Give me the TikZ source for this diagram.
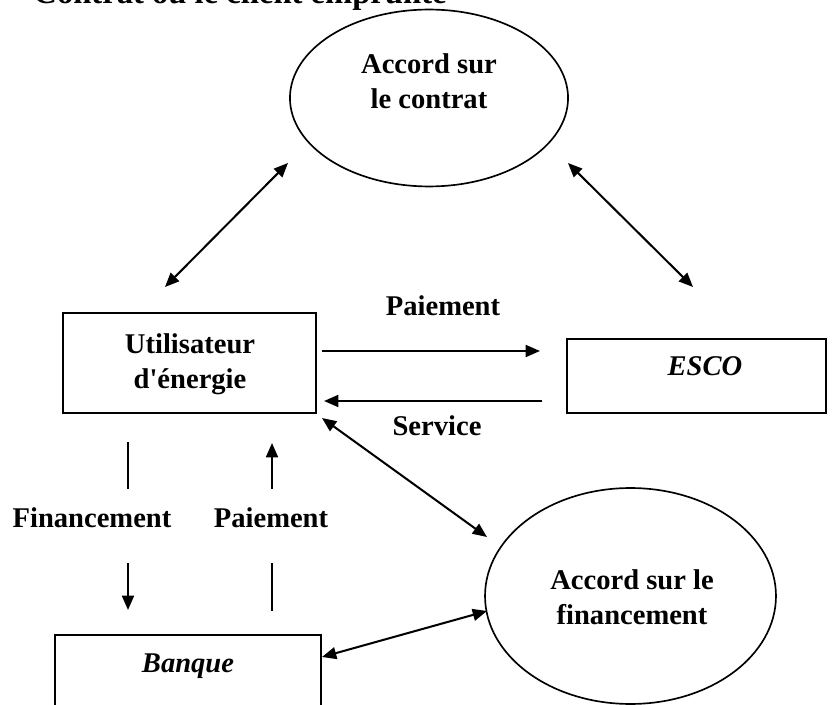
\documentclass[tikz,border=0pt]{standalone}
\usepackage{fontspec}
\setmainfont{Liberation Serif}
\newfontfamily\symfont{DejaVu Sans}
\usetikzlibrary{shapes.geometric,arrows.meta}

\begin{document}
\begin{tikzpicture}[x=0.42pt,y=-0.42pt,
  font=\fontsize{12}{14.5}\selectfont\bfseries,
  lw/.style={line width=0.85pt},
  tip/.tip={Triangle[length=6pt,width=5pt]},
  conn/.style={lw,-tip},
  biconn/.style={lw,tip-tip},
  plainline/.style={lw},
  box/.style={draw,lw,rectangle,inner sep=0pt},
  oval/.style={draw,line width=0.7pt,ellipse,inner sep=0pt},
  lbl/.style={anchor=base,inner sep=0pt},
  txt/.style={align=center,inner sep=0pt}]

% page frame
\clip (0,0) rectangle (834,705);

% heading (cut by the top edge)
\node[anchor=base west,inner sep=0pt,font=\fontsize{13.5}{16}\selectfont] (bullet) at (-20,6) {\symfont ➢};
\node[anchor=base west,inner sep=0pt,font=\fontsize{13.7}{16}\selectfont\bfseries] (title) at (33,4) {Contrat où le client emprunte};

% shapes
\node[oval,minimum width=116.8pt,minimum height=74.3pt] (contrat) at (429,98) {};
\node[txt] (contratTxt) at (429,81) {Accord sur\\le contrat};

\node[box,minimum width=106.3pt,minimum height=42pt] (user) at (189.5,363) {};
\node[txt] (userTxt) at (190,364) {Utilisateur\\d\textquotesingle énergie};

\node[box,minimum width=108.8pt,minimum height=31.1pt] (esco) at (696.5,376) {};
\node[lbl] (escoTxt) at (705,375) {\itshape ESCO};

\node[box,minimum width=111.7pt,minimum height=42pt] (banque) at (188,685) {};
\node[lbl] (banqueTxt) at (188,672) {\itshape Banque};

\node[oval,minimum width=122.2pt,minimum height=90.7pt] (fin) at (630.5,596) {};
\node[txt] (finTxt) at (632,597) {Accord sur le\\financement};

% flow labels
\node[lbl] (payTop) at (443,316) {Paiement};
\node[lbl] (service) at (437,435) {Service};
\node[lbl] (financement) at (92,527) {Financement};
\node[lbl] (payLeft) at (271,527) {Paiement};

% connector end points
\coordinate (a1) at (165,287);  \coordinate (a2) at (288,163);
\coordinate (b1) at (568,163);  \coordinate (b2) at (693,287);
\coordinate (c1) at (322,351);  \coordinate (c2) at (540,351);
\coordinate (d1) at (542,401);  \coordinate (d2) at (324,401);
\coordinate (e1) at (322,418);  \coordinate (e2) at (487,537);
\coordinate (f1) at (322,657);  \coordinate (f2) at (487,611);
\coordinate (g1) at (128,442);  \coordinate (g2) at (128,489);
\coordinate (g3) at (128,563);  \coordinate (g4) at (128,610);
\coordinate (h1) at (272,489);  \coordinate (h2) at (272,443);
\coordinate (h3) at (272,563);  \coordinate (h4) at (272,611);

% connectors
\draw[biconn] (a1) -- (a2);
\draw[biconn] (b1) -- (b2);
\draw[conn] (c1) -- (c2);
\draw[conn] (d1) -- (d2);
\draw[biconn] (e1) -- (e2);
\draw[biconn] (f1) -- (f2);
\draw[plainline] (g1) -- (g2);
\draw[conn] (g3) -- (g4);
\draw[conn] (h1) -- (h2);
\draw[plainline] (h3) -- (h4);
\end{tikzpicture}
\end{document}
